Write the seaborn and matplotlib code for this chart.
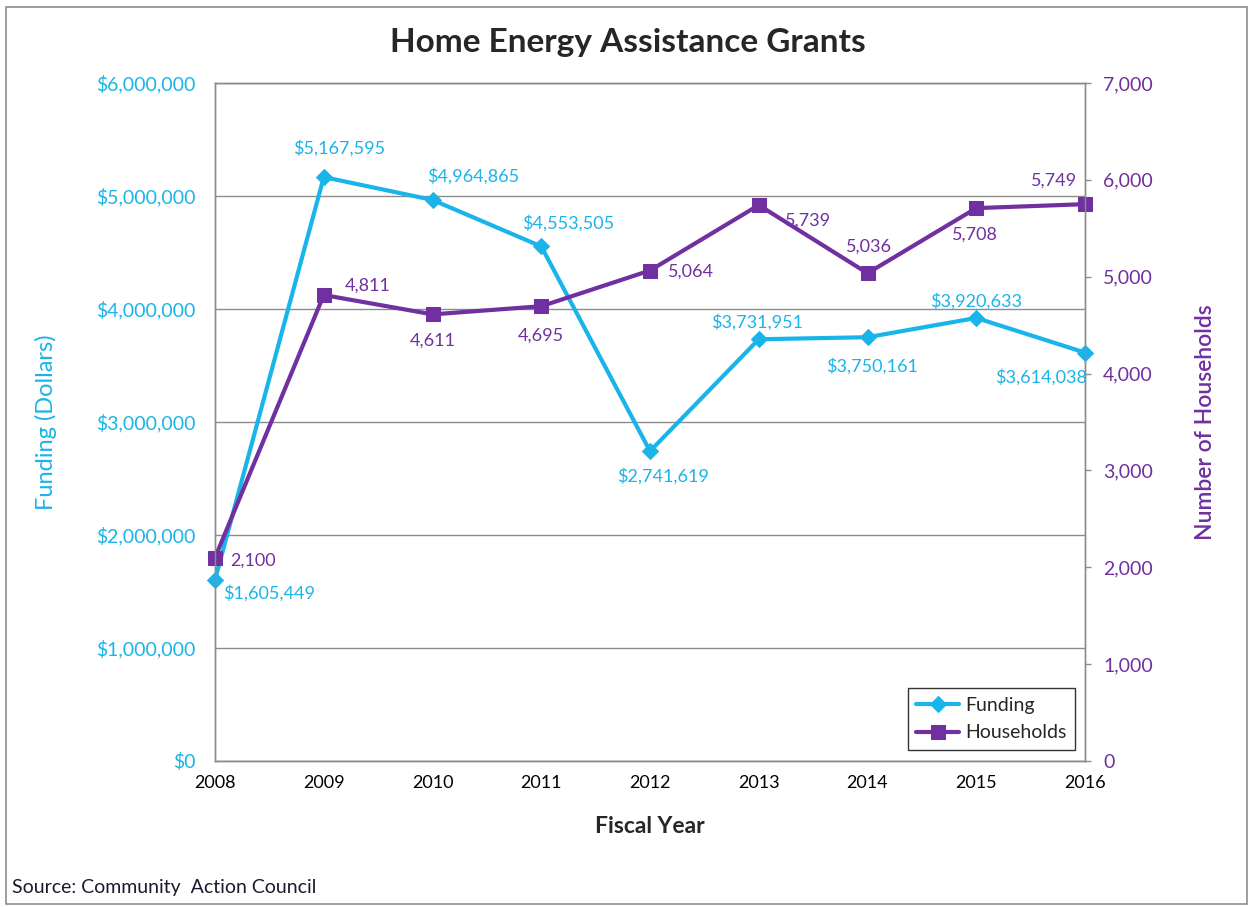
import matplotlib
matplotlib.use("Agg")
import matplotlib.pyplot as plt
import matplotlib.ticker as mticker
from matplotlib.patches import Rectangle
import seaborn as sns
import pandas as pd

# data
years = [2008, 2009, 2010, 2011, 2012, 2013, 2014, 2015, 2016]
funding = [1605449, 5167595, 4964865, 4553505, 2741619, 3731951, 3750161, 3920633, 3614038]
households = [2100, 4811, 4611, 4695, 5064, 5739, 5036, 5708, 5749]

CYAN = "#19B4EA"
PURPLE = "#7030A0"
GRAY = "#8C8C8C"

# label offsets in points (dx, dy, ha)
fund_off = [(6, -10, "left"), (11, 21, "center"), (29, 17, "center"), (19, 17, "center"),
            (9, -18, "center"), (-1, 12, "center"), (3, -21, "center"), (0, 12, "center"), (-32, -18, "center")]
hh_off = [(11, -2, "left"), (15, 7, "left"), (0, -19, "center"), (0, -21, "center"),
          (13, -1, "left"), (19, -11, "left"), (1, 19, "center"), (-1, -19, "center"), (-22, 17, "center")]

sns.set_style("white")
plt.rcParams["font.family"] = ["Lato", "DejaVu Sans"]

df = pd.DataFrame({"year": years, "funding": funding, "households": households})

fig = plt.figure(figsize=(12.51, 9.07), dpi=100)
ax = fig.add_axes([0.1719, 0.1610, 0.8673 - 0.1719, 0.9085 - 0.1610])
ax2 = ax.twinx()

sns.lineplot(data=df, x="year", y="funding", ax=ax, color=CYAN, lw=3, marker="D",
             markersize=8, markeredgecolor=CYAN, label="Funding", legend=False,
             zorder=3, clip_on=False)
sns.lineplot(data=df, x="year", y="households", ax=ax2, color=PURPLE, lw=3, marker="s",
             markersize=10, markeredgecolor=PURPLE, label="Households", legend=False,
             clip_on=False)

ax.set_xlim(2008, 2016)
ax.set_ylim(0, 6000000)
ax2.set_ylim(0, 7000)
ax.set_xticks(years)
ax.yaxis.set_major_locator(mticker.MultipleLocator(1000000))
ax2.yaxis.set_major_locator(mticker.MultipleLocator(1000))
ax.yaxis.set_major_formatter(mticker.FuncFormatter(lambda v, p: f"${v:,.0f}"))
ax2.yaxis.set_major_formatter(mticker.FuncFormatter(lambda v, p: f"{v:,.0f}"))
ax.grid(axis="y", color=GRAY, lw=1)
ax.set_axisbelow(True)

ax.tick_params(axis="y", colors=CYAN, labelsize=14, length=0, pad=14)
ax2.tick_params(axis="y", colors=GRAY, labelcolor=PURPLE, labelsize=14,
                length=4, width=1, direction="out", pad=9)
ax.tick_params(axis="x", colors="black", labelsize=13, length=0, pad=10)
for a in (ax, ax2):
    for s in a.spines.values():
        s.set_color(GRAY)
        s.set_linewidth(1)

ax.set_xlabel("Fiscal Year", fontsize=16.5, fontweight="bold", labelpad=18)
ax.set_ylabel("Funding (Dollars)", fontsize=17, color=CYAN, labelpad=28)
ax2.set_ylabel("Number of Households", fontsize=16.5, fontweight="semibold",
               color=PURPLE, labelpad=30)
ax.set_title("Home Energy Assistance Grants", fontsize=24, fontweight="bold",
             pad=22, x=0.475)

for x, y, (dx, dy, ha) in zip(years, funding, fund_off):
    ax.annotate(f"${y:,}", (x, y), xytext=(dx, dy), textcoords="offset points",
                ha=ha, va="center", fontsize=13, color=CYAN, zorder=5)
for x, y, (dx, dy, ha) in zip(years, households, hh_off):
    ax2.annotate(f"{y:,}", (x, y), xytext=(dx, dy), textcoords="offset points",
                 ha=ha, va="center", fontsize=13, color=PURPLE)

h1, l1 = ax.get_legend_handles_labels()
h2, l2 = ax2.get_legend_handles_labels()
leg = ax2.legend(h1 + h2, l1 + l2, loc="lower right", bbox_to_anchor=(0.9885, 0.016),
                 borderaxespad=0, fontsize=14, frameon=True, fancybox=False,
                 handlelength=2.2, handletextpad=0.3, borderpad=0.45, labelspacing=0.55)
leg.get_frame().set_edgecolor("black")
leg.get_frame().set_linewidth(1)

fig.text(12 / 1251, 1 - 888 / 907, "Source: Community  Action Council", fontsize=14,
         ha="left", va="center", color="#1a1a2e")
fig.patches.append(Rectangle((0.005, 0.003), 0.992, 1 - 7 / 907 - 0.003,
                             transform=fig.transFigure, fill=False,
                             edgecolor="#8c8c8c", lw=1.2))

fig.savefig("out.png", dpi=100)
